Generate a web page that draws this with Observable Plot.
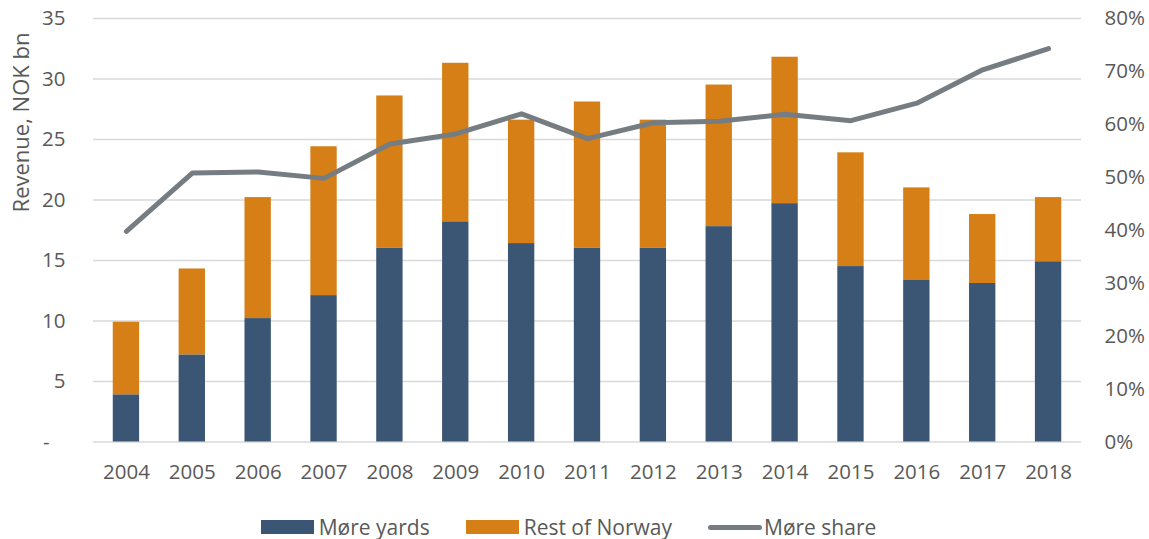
<!DOCTYPE html>
<html>
<head>
<meta charset="utf-8">
<script src="https://cdn.jsdelivr.net/npm/d3@7"></script>
<script src="https://cdn.jsdelivr.net/npm/@observablehq/plot@0.6"></script>
<style>
  html, body { margin: 0; padding: 0; background: #fff; }
  body { width: 1149px; height: 539px; overflow: hidden; font-family: "Open Sans", sans-serif; color: #595959; }
  #chart svg { display: block; }
  #legend { display: flex; justify-content: center; align-items: center; height: 40px; margin-top: 17px; font-size: 21px; color: #595959; padding-right: 12px; }
  .item { display: flex; align-items: center; margin: 0 18px; }
  .sw { width: 53px; height: 14px; margin-right: 5px; }
  .ln { width: 54px; height: 5px; border-radius: 3px; margin-right: 2px; }
</style>
</head>
<body>
<div id="chart"></div>
<div id="legend"></div>
<script>
const years = ["2004","2005","2006","2007","2008","2009","2010","2011","2012","2013","2014","2015","2016","2017","2018"];
const moreYards = [3.9, 7.2, 10.2, 12.1, 16.0, 18.2, 16.4, 16.0, 16.0, 17.8, 19.7, 14.5, 13.4, 13.1, 14.9];
const totalRevenue = [9.9, 14.3, 20.2, 24.4, 28.6, 31.3, 26.6, 28.1, 26.6, 29.5, 31.8, 23.9, 21.0, 18.8, 20.2];
const moreShare = [0.398, 0.508, 0.510, 0.498, 0.563, 0.582, 0.620, 0.573, 0.603, 0.606, 0.619, 0.607, 0.640, 0.703, 0.743];
const leftTicks = [0, 5, 10, 15, 20, 25, 30, 35];
const rightTicks = [0, 0.1, 0.2, 0.3, 0.4, 0.5, 0.6, 0.7, 0.8];
const seriesNames = ["Møre yards", "Rest of Norway", "Møre share"];
const colors = ["#3a5674", "#d67f17", "#767d82"];

const yMax = 35, pMax = 0.8;
const toY = p => p * yMax / pMax;

const bars = [];
years.forEach((yr, i) => {
  bars.push({year: yr, series: seriesNames[0], value: moreYards[i]});
  bars.push({year: yr, series: seriesNames[1], value: totalRevenue[i] - moreYards[i]});
});
const line = years.map((yr, i) => ({year: yr, share: moreShare[i]}));

const chart = Plot.plot({
  width: 1149,
  height: 490,
  marginTop: 18,
  marginBottom: 48.5,
  marginLeft: 93,
  marginRight: 68,
  style: {fontFamily: "Open Sans, sans-serif", fontSize: "20.5px", color: "#595959", background: "#fff"},
  x: {domain: years, paddingInner: 0.6, paddingOuter: 0.3, round: false, label: null},
  y: {domain: [0, yMax], label: null},
  color: {domain: seriesNames.slice(0, 2), range: colors.slice(0, 2)},
  marks: [
    Plot.gridY(leftTicks, {stroke: "#d9d9d9", strokeOpacity: 1, strokeWidth: 1.5}),
    Plot.barY(bars, Plot.stackY({x: "year", y: "value", fill: "series", order: seriesNames.slice(0, 2)})),
    Plot.lineY(line, {x: "year", y: d => toY(d.share), stroke: colors[2], strokeWidth: 5, strokeLinecap: "round", strokeLinejoin: "round"}),
    Plot.axisY(leftTicks, {anchor: "left", tickSize: 0, tickPadding: 28, tickFormat: d => d === 0 ? "-\u00a0\u00a0\u00a0" : String(d), fill: "#595959", label: null}),
    Plot.axisY(rightTicks.map(toY), {anchor: "right", tickSize: 0, tickPadding: 23, tickFormat: v => Math.round(v / yMax * pMax * 100) + "%", fill: "#595959", label: null}),
    Plot.axisX(years, {tickSize: 0, tickPadding: 22, fill: "#595959", label: null}),
    Plot.text(["Revenue, NOK bn"], {frameAnchor: "top-left", dx: -80, dy: 104, rotate: -90, fill: "#595959", fontSize: 22, textAnchor: "middle"})
  ]
});
document.getElementById("chart").appendChild(chart);

const legend = document.getElementById("legend");
seriesNames.forEach((name, i) => {
  const it = document.createElement("div");
  it.className = "item";
  const sw = document.createElement("div");
  sw.className = i < 2 ? "sw" : "ln";
  sw.style.background = colors[i];
  const t = document.createElement("span");
  t.textContent = name;
  it.appendChild(sw); it.appendChild(t);
  legend.appendChild(it);
});
</script>
</body>
</html>
